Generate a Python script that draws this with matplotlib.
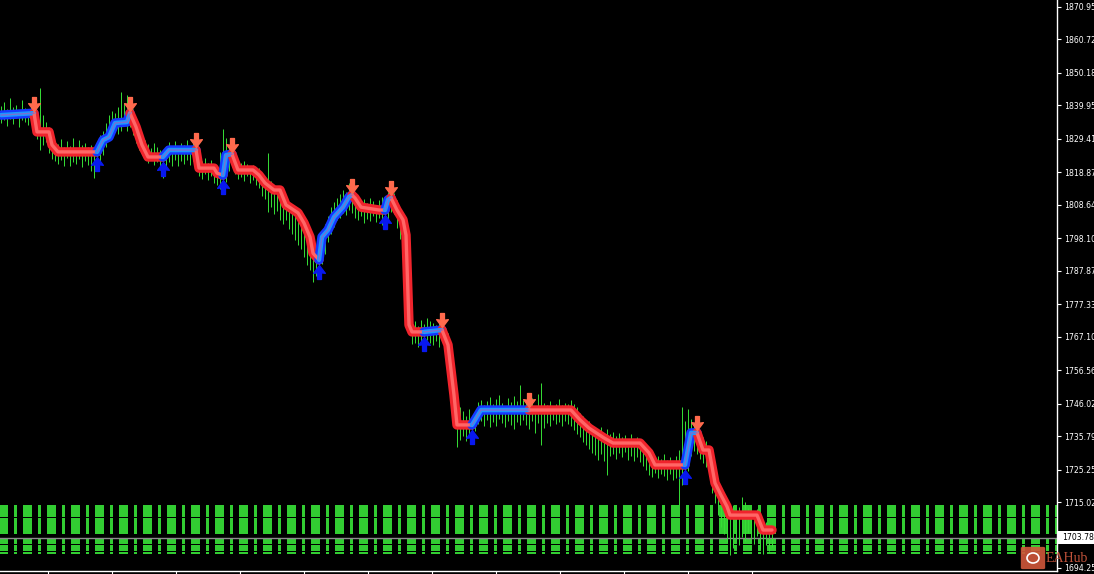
import numpy as np
import matplotlib
matplotlib.use("Agg")
import matplotlib.pyplot as plt
from matplotlib.path import Path
from matplotlib.patches import FancyBboxPatch, Rectangle, Ellipse

BG = "#000000"
BAR_COLOR = "#36e036"
HIST_COLOR = "#32cd32"
RED_OUT, RED_IN = "#f0242c", "#ff6666"
BLUE_OUT, BLUE_MID, BLUE_IN = "#1438ff", "#1e96ff", "#7a6fd0"
SELL_COLOR = "#ff6a4d"
BUY_COLOR = "#0818f0"

# price bars (one bar every 3 px)
bar_low = [
    1834.5, 1835.2, 1833.6, 1835.8, 1834.1, 1836.0, 1833.2, 1835.4, 1834.7, 1833.9,
    1835.1, 1831.8, 1829.4, 1825.9, 1827.6, 1828.3, 1825.1, 1823.0, 1822.4, 1821.6,
    1822.8, 1821.0, 1823.5, 1820.9, 1822.2, 1821.4, 1823.0, 1820.6, 1822.5, 1821.2,
    1819.4, 1817.1, 1819.8, 1822.1, 1824.3, 1826.9, 1828.7, 1830.2, 1831.5, 1830.8,
    1832.0, 1833.4, 1831.9, 1833.0, 1830.5, 1828.2, 1826.0, 1824.4, 1822.7, 1821.9,
    1822.8, 1821.3, 1822.0, 1819.7, 1817.2, 1820.5, 1822.1, 1821.0, 1822.6, 1820.8,
    1822.3, 1821.5, 1822.9, 1821.2, 1822.4, 1820.0, 1817.6, 1816.9, 1818.2, 1816.4,
    1817.8, 1815.5, 1814.8, 1813.6, 1813.1, 1815.9, 1819.2, 1820.4, 1818.3, 1816.7,
    1817.5, 1816.1, 1817.8, 1815.4, 1816.6, 1814.9, 1813.8, 1811.5, 1810.4, 1806.3,
    1807.9, 1805.6, 1806.8, 1803.7, 1802.5, 1804.0, 1800.9, 1799.4, 1797.6, 1796.1,
    1794.7, 1792.3, 1789.8, 1788.0, 1784.3, 1786.2, 1785.5, 1789.9, 1793.2, 1796.8,
    1799.5, 1801.7, 1803.8, 1804.6, 1806.1, 1805.3, 1807.0, 1806.2, 1804.5, 1803.9,
    1805.1, 1802.8, 1804.3, 1803.5, 1805.0, 1803.1, 1804.6, 1802.4, 1801.8, 1804.2,
    1806.5, 1805.8, 1801.3, 1798.0, 1792.6, 1781.0, 1768.9, 1764.7, 1765.2, 1763.9,
    1765.8, 1764.3, 1766.0, 1765.1, 1764.4, 1765.6, 1764.0, 1765.3, 1762.1, 1757.0,
    1749.5, 1741.8, 1732.3, 1734.6, 1735.8, 1734.1, 1736.5, 1735.2, 1737.3, 1739.6,
    1740.4, 1739.1, 1740.8, 1738.7, 1740.2, 1739.0, 1741.1, 1739.8, 1738.5, 1740.6,
    1739.3, 1737.9, 1740.1, 1739.4, 1740.9, 1739.2, 1738.0, 1740.5, 1736.7, 1739.8,
    1733.0, 1738.4, 1740.0, 1739.1, 1740.7, 1739.5, 1740.3, 1739.0, 1740.6, 1739.7,
    1739.0, 1737.8, 1736.5, 1735.4, 1734.0, 1733.1, 1731.7, 1730.6, 1729.8, 1728.2,
    1730.1, 1727.9, 1723.5, 1729.4, 1730.2, 1728.6, 1730.5, 1729.1, 1730.7, 1728.3,
    1729.6, 1728.0, 1729.2, 1727.5, 1726.4, 1725.0, 1723.6, 1722.9, 1724.1, 1722.5,
    1724.0, 1723.2, 1722.0, 1723.7, 1721.8, 1722.6, 1714.0, 1720.5, 1722.3, 1724.8,
    1729.5, 1731.0, 1730.2, 1728.7, 1727.3, 1726.0, 1723.1, 1718.0, 1714.6, 1710.8,
    1707.2, 1704.9, 1702.3, 1698.3, 1700.6, 1703.1, 1701.4, 1704.0, 1702.8, 1705.2,
    1703.6, 1701.9, 1704.4, 1700.2, 1698.8, 1701.5, 1699.6, 1700.9,
]
bar_high = [
    1839.8, 1841.0, 1838.9, 1842.3, 1839.4, 1840.2, 1838.5, 1841.6, 1839.0, 1838.2,
    1840.6, 1839.5, 1836.2, 1845.4, 1836.8, 1834.7, 1833.2, 1830.4, 1828.1, 1827.9,
    1829.3, 1826.7, 1828.6, 1827.2, 1829.8, 1826.3, 1828.9, 1827.4, 1828.2, 1826.8,
    1827.5, 1826.0, 1828.4, 1830.6, 1832.0, 1834.5, 1836.8, 1838.1, 1837.6, 1839.3,
    1844.1, 1840.7, 1843.2, 1839.6, 1838.9, 1836.1, 1833.4, 1831.2, 1829.0, 1827.8,
    1826.6, 1828.0, 1826.9, 1825.8, 1824.6, 1827.3, 1828.4, 1827.0, 1828.8, 1826.5,
    1828.1, 1827.6, 1829.0, 1826.8, 1828.3, 1827.4, 1824.8, 1822.3, 1823.5, 1821.9,
    1822.7, 1821.2, 1820.6, 1825.4, 1832.5, 1829.7, 1827.1, 1826.3, 1825.0, 1822.8,
    1821.9, 1822.4, 1821.6, 1820.9, 1821.3, 1819.8, 1820.2, 1818.4, 1817.0, 1825.0,
    1816.1, 1814.2, 1813.0, 1811.8, 1810.9, 1809.6, 1808.3, 1807.1, 1806.0, 1803.9,
    1801.8, 1800.2, 1797.9, 1796.0, 1795.1, 1793.4, 1794.6, 1799.3, 1802.5, 1805.2,
    1807.9, 1809.4, 1810.8, 1812.0, 1813.4, 1812.6, 1815.5, 1813.8, 1811.6, 1810.2,
    1809.7, 1810.5, 1809.1, 1810.8, 1809.9, 1808.7, 1810.3, 1811.2, 1808.5, 1812.6,
    1813.0, 1812.4, 1810.0, 1807.6, 1805.1, 1801.4, 1790.2, 1773.5, 1771.9, 1770.6,
    1772.4, 1771.0, 1773.0, 1772.1, 1771.5, 1770.8, 1771.7, 1772.0, 1770.3, 1768.4,
    1763.7, 1756.2, 1748.5, 1745.0, 1743.6, 1742.2, 1744.3, 1741.9, 1743.8, 1746.4,
    1747.0, 1745.6, 1746.9, 1748.2, 1745.8, 1747.5, 1748.7, 1746.2, 1745.3, 1747.9,
    1746.5, 1748.4, 1746.8, 1751.9, 1747.2, 1746.6, 1745.4, 1747.8, 1745.1, 1749.0,
    1752.5, 1746.3, 1745.7, 1746.9, 1745.2, 1746.0, 1747.4, 1745.5, 1746.1, 1745.8,
    1747.3, 1746.0, 1744.8, 1743.2, 1742.1, 1741.0, 1740.4, 1739.2, 1738.5, 1737.0,
    1738.8, 1736.6, 1737.9, 1736.3, 1737.1, 1735.8, 1736.9, 1735.4, 1736.2, 1735.0,
    1736.5, 1734.7, 1735.6, 1734.3, 1733.8, 1732.1, 1730.5, 1729.7, 1728.9, 1729.4,
    1728.6, 1730.0, 1728.4, 1729.2, 1728.0, 1729.6, 1731.5, 1745.0, 1740.6, 1744.2,
    1741.3, 1739.8, 1738.4, 1737.2, 1735.6, 1734.1, 1732.0, 1730.5, 1726.2, 1722.7,
    1719.4, 1716.0, 1713.8, 1712.5, 1714.0, 1712.9, 1713.6, 1716.6, 1715.1, 1713.0,
    1712.2, 1711.5, 1712.8, 1709.6, 1707.4, 1708.8, 1707.0, 1706.8,
]

# step trend line, split in up (blue) / down (red) pieces
seg_trend = ["up", "dn", "up", "dn", "up", "dn", "up", "dn", "up",
             "dn", "up", "dn", "up", "dn", "up", "dn", "up", "dn"]
seg_bars = [
    [0, 11],
    [11, 12, 16, 17, 19, 32],
    [32, 34, 36, 38, 42, 43],
    [43, 45, 47, 49, 54],
    [54, 56, 65],
    [65, 66, 71, 72, 74],
    [74, 75, 77],
    [77, 79, 84, 86, 88, 91, 93, 95, 99, 101, 103, 104, 106],
    [106, 107, 109, 111, 114, 116, 117],
    [117, 118, 120, 126, 128],
    [128, 129, 130],
    [130, 132, 134, 135, 136, 137, 141],
    [141, 147],
    [147, 149, 150, 151, 152, 157],
    [157, 160, 176],
    [176, 190, 193, 196, 201, 204, 213, 216, 218, 228],
    [228, 230, 232],
    [232, 234, 236, 238, 240, 242, 243, 252, 254, 257],
]
seg_prices = [
    [1836.9, 1837.5],
    [1837.5, 1831.6, 1831.6, 1827.5, 1825.3, 1825.3],
    [1825.3, 1829.0, 1830.0, 1834.4, 1834.7, 1837.5],
    [1837.5, 1833.2, 1827.5, 1823.7, 1823.7],
    [1823.7, 1825.9, 1825.9],
    [1825.9, 1820.2, 1820.2, 1818.6, 1818.0],
    [1818.0, 1824.3, 1824.6],
    [1824.6, 1819.6, 1819.6, 1818.0, 1815.5, 1813.3, 1813.3, 1808.6, 1806.1,
     1802.9, 1798.5, 1793.4, 1791.3],
    [1791.3, 1798.5, 1800.7, 1804.8, 1807.9, 1811.1, 1811.7],
    [1811.7, 1810.8, 1807.9, 1807.0, 1807.0],
    [1807.0, 1810.2, 1810.8],
    [1810.8, 1807.0, 1803.9, 1799.1, 1770.8, 1768.6, 1768.6],
    [1768.6, 1769.2],
    [1769.2, 1764.5, 1756.6, 1748.7, 1739.3, 1739.3],
    [1739.3, 1744.0, 1744.0],
    [1744.0, 1744.0, 1740.9, 1738.3, 1735.2, 1733.6, 1733.6, 1730.5, 1726.7, 1726.7],
    [1726.7, 1736.8, 1736.8],
    [1736.8, 1731.4, 1731.4, 1721.0, 1717.2, 1713.6, 1710.9, 1710.9, 1706.2, 1706.2],
]

ytick_vals = [1870.95, 1860.72, 1850.18, 1839.95, 1829.41, 1818.87, 1808.64,
              1798.10, 1787.87, 1777.33, 1767.10, 1756.56, 1746.02, 1735.79,
              1725.25, 1715.02, 1694.25]
bid_price = 1703.78

# bottom histogram rows (price bands)
hist_rows = [(1710.45, 1714.08), (1705.10, 1709.98), (1701.95, 1703.37),
             (1699.74, 1701.47), (1698.80, 1699.27)]

W, H = 1094, 574
PX = 3.0  # pixels per bar


def px2bar(px):
    return (px - 1) / PX


fig = plt.figure(figsize=(W / 100, H / 100), dpi=100, facecolor=BG)
ax = fig.add_axes([0, 3 / H, 1057 / W, 571 / H])
ax.set_facecolor(BG)
ax.set_xlim(px2bar(0), px2bar(1057))
ax.set_ylim(1693.29, 1873.15)

# histogram blocks: narrow (3 px) + wide (9 px), period 24 px
starts = np.arange(-1, 1060, 24)
blocks = []
for s in starts:
    blocks.append((px2bar(s), 9 / PX))
    blocks.append((px2bar(s + 15), 3 / PX))
for lo, hi in hist_rows:
    ax.broken_barh(blocks, (lo, hi - lo), facecolors=HIST_COLOR, zorder=1)

ax.axhline(bid_price, color="#8c8c8c", lw=1, zorder=1.5)

xb = np.arange(len(bar_low))
ax.vlines(xb, bar_low, bar_high, color=BAR_COLOR, lw=0.7, zorder=2)

for tr, bx, py in zip(seg_trend, seg_bars, seg_prices):
    kw = dict(solid_joinstyle="round", solid_capstyle="round")
    if tr == "dn":
        ax.plot(bx, py, color=RED_OUT, lw=6.8, zorder=3, **kw)
        ax.plot(bx, py, color=RED_IN, lw=2.4, zorder=3.1, **kw)
    else:
        ax.plot(bx, py, color=BLUE_OUT, lw=6.8, zorder=3, **kw)
        ax.plot(bx, py, color=BLUE_MID, lw=3.2, zorder=3.1, **kw)
        ax.plot(bx, py, color=BLUE_IN, lw=1.0, zorder=3.2, **kw)

all_x = np.concatenate([np.array(b, float) for b in seg_bars])
all_y = np.concatenate([np.array(p, float) for p in seg_prices])
order = np.argsort(all_x, kind="stable")
all_x, all_y = all_x[order], all_y[order]

sell_bars = [b[0] for t, b in zip(seg_trend, seg_bars) if t == "dn"]
buy_bars = [b[0] for t, b in zip(seg_trend, seg_bars) if t == "up"][1:]

down_arrow = Path([(-0.14, 0.5), (0.14, 0.5), (0.14, 0.02), (0.42, 0.06), (0, -0.5),
                   (-0.42, 0.06), (-0.14, 0.02), (-0.14, 0.5)],
                  [Path.MOVETO] + [Path.LINETO] * 6 + [Path.CLOSEPOLY])
up_arrow = Path([(x, -y) for x, y in down_arrow.vertices], down_arrow.codes)

ax.plot(sell_bars, np.interp(sell_bars, all_x, all_y) + 3.0, ls="none",
        marker=down_arrow, ms=10, color=SELL_COLOR, mec=SELL_COLOR, zorder=4)
ax.plot(buy_bars, np.interp(buy_bars, all_x, all_y) - 3.7, ls="none",
        marker=up_arrow, ms=10, color=BUY_COLOR, mec=BUY_COLOR, zorder=4)

# axes styling
for side in ("top", "left"):
    ax.spines[side].set_visible(False)
for side in ("right", "bottom"):
    ax.spines[side].set_color("white")
    ax.spines[side].set_linewidth(1)
ax.yaxis.tick_right()
ax.set_yticks(ytick_vals)
ax.set_yticklabels([f"{v:.2f}" for v in ytick_vals])
ax.tick_params(axis="y", colors="white", labelsize=5.6, length=3, pad=2)
ax.set_xticks([px2bar(47.5 + 64 * k) for k in range(12)])
ax.set_xticklabels([])
ax.tick_params(axis="x", colors="white", length=3, direction="out")

# bid price box
fig.add_artist(Rectangle((1058 / W, (H - 544) / H), 36 / W, 13 / H,
                         transform=fig.transFigure, facecolor="white", edgecolor="none"))
fig.text(1062 / W, (H - 537.5) / H, f"{bid_price:.2f}", color="black", fontsize=5.6,
         va="center", ha="left")

# watermark
fig.add_artist(FancyBboxPatch((1023 / W, (H - 568) / H), 20 / W, 20 / H,
                              boxstyle="round,pad=0.002", transform=fig.transFigure,
                              facecolor="#d2573a", edgecolor="none", alpha=0.9))
fig.add_artist(Ellipse((1033 / W, (H - 558) / H), 12 / W, 10 / H,
                       transform=fig.transFigure, facecolor="none",
                       edgecolor="white", lw=1.2))
fig.text(1046 / W, (H - 558) / H, "EAHub", color="#c0523a", fontsize=10,
         family="Liberation Serif", va="center", ha="left")

fig.savefig("out.png", dpi=100, facecolor=BG)
